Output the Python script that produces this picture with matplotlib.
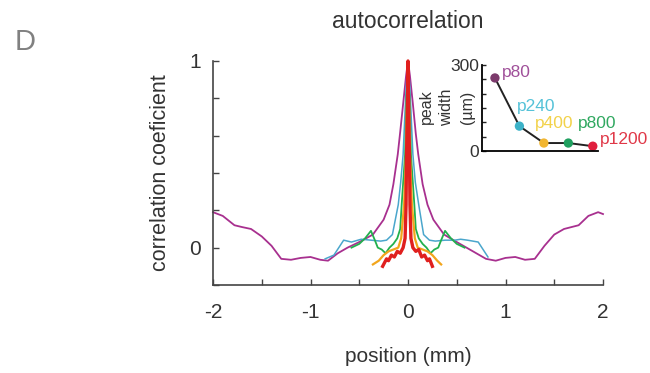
import matplotlib
matplotlib.use("Agg")
import matplotlib.pyplot as plt
import numpy as np

plt.rcParams['font.family'] = ['Liberation Sans', 'DejaVu Sans']

# ---- main autocorrelation curves (position in mm, correlation coefficient) ----
p80_x = [-2.0, -1.9, -1.78, -1.7, -1.61, -1.5, -1.4, -1.3, -1.2, -1.1, -1.0, -0.9, -0.82, -0.72,
         -0.62, -0.5, -0.36, -0.25, -0.19, -0.15, -0.105, -0.08, -0.05, -0.02, 0.0,
         0.02, 0.05, 0.08, 0.105, 0.15, 0.2, 0.26, 0.37, 0.5, 0.6, 0.7, 0.8, 0.9, 1.0, 1.1, 1.2, 1.3,
         1.4, 1.5, 1.6, 1.75, 1.85, 1.95, 2.0]
p80_y = [0.19, 0.17, 0.12, 0.11, 0.10, 0.06, 0.01, -0.06, -0.065, -0.055, -0.05, -0.065, -0.07, -0.03,
         0.0, 0.03, 0.07, 0.15, 0.23, 0.34, 0.50, 0.62, 0.77, 0.92, 1.0,
         0.92, 0.77, 0.61, 0.50, 0.34, 0.23, 0.15, 0.07, 0.03, 0.0, -0.03, -0.06, -0.07, -0.055, -0.05, -0.065, -0.06,
         0.01, 0.07, 0.10, 0.12, 0.17, 0.19, 0.18]

p240_x = [-0.85, -0.76, -0.66, -0.58, -0.48, -0.38, -0.28, -0.22, -0.16, -0.1, -0.075, -0.05, -0.02, 0.0,
          0.02, 0.05, 0.075, 0.11, 0.16, 0.22, 0.28, 0.38, 0.48, 0.54, 0.61, 0.72, 0.82]
p240_y = [-0.06, -0.04, 0.04, 0.03, 0.045, 0.04, 0.035, 0.04, 0.07, 0.23, 0.35, 0.50, 0.85, 1.0,
          0.85, 0.50, 0.35, 0.23, 0.07, 0.04, 0.035, 0.04, 0.04, 0.045, 0.04, 0.03, -0.05]

p800_x = [-0.58, -0.5, -0.44, -0.38, -0.34, -0.31, -0.27, -0.23, -0.19, -0.15, -0.11, -0.08, -0.065, -0.03, -0.015, 0.0,
          0.015, 0.03, 0.065, 0.08, 0.11, 0.15, 0.19, 0.23, 0.27, 0.31, 0.34, 0.38, 0.44, 0.5, 0.58]
p800_y = [0.0, 0.02, 0.05, 0.09, 0.04, 0.0, -0.01, -0.03, 0.0, 0.02, 0.05, 0.10, 0.23, 0.50, 0.80, 1.0,
          0.80, 0.50, 0.23, 0.10, 0.05, 0.02, 0.0, -0.03, -0.01, 0.0, 0.04, 0.09, 0.05, 0.02, 0.0]

p400_x = [-0.36, -0.3, -0.25, -0.2, -0.15, -0.1, -0.07, -0.04, -0.02, -0.01, 0.0,
          0.01, 0.02, 0.04, 0.07, 0.1, 0.15, 0.2, 0.25, 0.3, 0.34]
p400_y = [-0.09, -0.07, -0.04, -0.02, -0.01, 0.0, 0.05, 0.23, 0.50, 0.80, 1.0,
          0.80, 0.50, 0.23, 0.05, 0.0, -0.01, -0.02, -0.04, -0.07, -0.09]

p1200_x = [-0.26, -0.22, -0.2, -0.17, -0.14, -0.11, -0.08, -0.05, -0.03, -0.02, -0.015, -0.007, 0.0,
           0.007, 0.015, 0.02, 0.03, 0.05, 0.08, 0.11, 0.14, 0.17, 0.2, 0.22, 0.25]
p1200_y = [-0.10, -0.06, -0.07, -0.04, -0.05, -0.02, -0.03, 0.0, 0.05, 0.23, 0.50, 0.70, 1.0,
           0.70, 0.50, 0.23, 0.05, 0.0, -0.02, -0.01, -0.05, -0.04, -0.07, -0.06, -0.10]

# ---- inset: peak width (um) ----
inset_labels = ['p80', 'p240', 'p400', 'p800', 'p1200']
inset_width = [255, 87, 28, 28, 17]

line_colors = ['#a8308f', '#4aa6cc', '#22b04e', '#f2a51c', '#e0201e']
point_colors = ['#7c3a6c', '#3cb2c8', '#f2b630', '#20a060', '#e0203e']
label_colors = ['#a0509a', '#55c2d8', '#f2d24a', '#30a860', '#e03848']

fig = plt.figure(figsize=(6.5, 3.73), dpi=100)
ax = fig.add_axes([0.3277, 0.236, 0.6, 0.6005])

series = [(p80_x, p80_y, 1.3), (p240_x, p240_y, 1.1), (p800_x, p800_y, 1.3),
          (p400_x, p400_y, 1.6), (p1200_x, p1200_y, 2.4)]
for (xs, ys, lw), c in zip(series, line_colors):
    ax.plot(xs, ys, color=c, lw=lw, clip_on=False, solid_joinstyle='round')

ax.set_xlim(-2, 2)
ax.set_ylim(-0.2, 1.0)
ax.set_xticks(np.arange(-2, 2.01, 0.5))
ax.set_xticklabels(['-2', '', '-1', '', '0', '', '1', '', '2'])
ax.set_yticks(np.arange(-0.2, 1.01, 0.2))
ax.set_yticklabels(['', '0', '', '', '', '', '1'])
ax.tick_params(direction='in', length=4, width=1, colors='#444444', labelsize=15,
               labelcolor='#333333')
ax.tick_params(axis='x', pad=13)
ax.tick_params(axis='y', pad=9)
for s in ['top', 'right']:
    ax.spines[s].set_visible(False)
for s in ['left', 'bottom']:
    ax.spines[s].set_color('#444444')
    ax.spines[s].set_linewidth(1.2)
ax.set_xlabel('position (mm)', fontsize=15, color='#333333', labelpad=18)
ax.set_ylabel('correlation coeficient', fontsize=15.5, color='#333333', labelpad=13)
ax.set_title('autocorrelation', fontsize=16.5, color='#333333', pad=24)

fig.text(0.022, 0.865, 'D', fontsize=21, color='#808080', fontweight='light')

# inset
axi = fig.add_axes([0.7415, 0.595, 0.178, 0.2306])
pos = np.arange(1, len(inset_width) + 1)
axi.plot(pos, inset_width, color='#222222', lw=1.4, zorder=1)
axi.scatter(pos, inset_width, c=point_colors, s=45, zorder=2, edgecolors='none')
offsets = [(0.3, 20), (-0.1, 70), (-0.35, 67), (0.4, 67), (0.3, 22)]
for p, w, lab, c, (dx, dy) in zip(pos, inset_width, inset_labels, label_colors, offsets):
    axi.text(p + dx, w + dy, lab, color=c, fontsize=12.5, ha='left', va='center')
axi.set_xlim(0.47, 5.2)
axi.set_ylim(0, 300)
axi.set_xticks([])
axi.set_yticks(np.arange(0, 301, 50))
axi.set_yticklabels(['0', '', '', '', '', '', '300'])
axi.tick_params(direction='in', length=3, width=1, colors='#222222', labelsize=12.5,
                labelcolor='#333333', pad=2)
for s in ['top', 'right']:
    axi.spines[s].set_visible(False)
for s in ['left', 'bottom']:
    axi.spines[s].set_linewidth(1.3)
fig.text(447 / 650, 1 - 107 / 373, 'peak\nwidth\n(µm)', rotation=90, fontsize=11.5,
         color='#333333', ha='center', va='center', linespacing=1.45, multialignment='center')

fig.savefig('out.png', dpi=100)
